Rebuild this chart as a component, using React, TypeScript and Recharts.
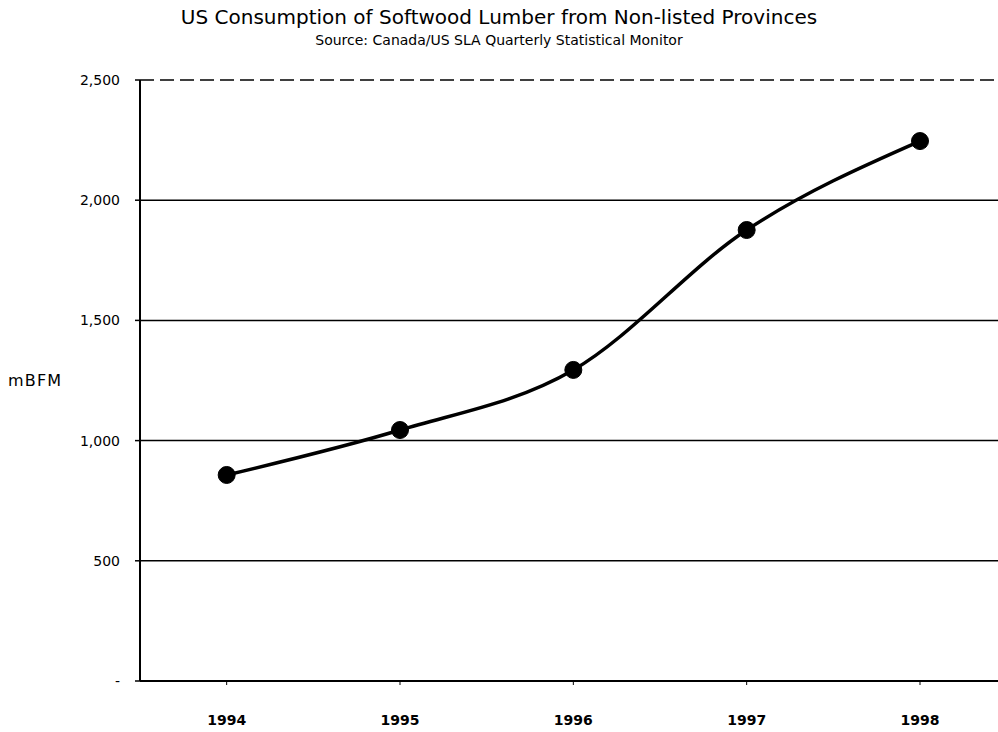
import React from 'react';
import { LineChart, Line, XAxis, YAxis, ReferenceLine } from 'recharts';

const years = [1994, 1995, 1996, 1997, 1998];
const consumption = [857, 1044, 1294, 1876, 2246];
const yTicks = [0, 500, 1000, 1500, 2000, 2500];
const gridValues = [500, 1000, 1500, 2000];

const title = 'US Consumption of Softwood Lumber from Non-listed Provinces';
const subtitle = 'Source: Canada/US SLA Quarterly Statistical Monitor';
const yLabel = 'mBFM';

const data = years.map((y, i) => ({ year: y, value: consumption[i] }));

const fmt = (v: number) => (v === 0 ? '-' : v.toLocaleString('en-US'));

export default function App() {
  return (
    <div style={{ position: 'absolute', left: 0, top: 0, width: 998, height: 732, background: '#fff', fontFamily: 'DejaVu Sans' }}>
      <div style={{ position: 'absolute', left: 0, width: 998, top: 5, textAlign: 'center', fontSize: 20, color: '#000', lineHeight: '24px' }}>{title}</div>
      <div style={{ position: 'absolute', left: 0, width: 998, top: 32, textAlign: 'center', fontSize: 14, color: '#000', lineHeight: '16px' }}>{subtitle}</div>
      <LineChart width={998} height={732} data={data} margin={{ top: 80, right: 0, bottom: 0, left: 0 }}>
        <XAxis
          dataKey="year"
          type="number"
          domain={[1993.5, 1998.45]}
          ticks={years}
          height={51}
          tickSize={4}
          tickMargin={30}
          axisLine={{ stroke: '#000', strokeWidth: 2 }}
          tickLine={{ stroke: '#000' }}
          tick={{ fill: '#000', fontSize: 14, fontWeight: 'bold', fontFamily: 'DejaVu Sans' }}
          allowDataOverflow
        />
        <YAxis
          type="number"
          domain={[0, 2500]}
          ticks={yTicks}
          width={140}
          tickSize={5}
          tickMargin={15}
          tickFormatter={fmt}
          axisLine={{ stroke: '#000', strokeWidth: 2 }}
          tickLine={{ stroke: '#000', strokeWidth: 1.5 }}
          tick={{ fill: '#000', fontSize: 14, fontFamily: 'DejaVu Sans' }}
          label={{ value: yLabel, position: 'insideLeft', offset: 8, style: { fill: '#000', fontSize: 16, letterSpacing: 1.2, fontFamily: 'DejaVu Sans' } }}
        />
        {gridValues.map((v) => (
          <ReferenceLine key={v} y={v} stroke="#000" strokeWidth={1.5} />
        ))}
        <ReferenceLine y={2500} stroke="#000" strokeWidth={1.5} strokeDasharray="14 6" />
        <Line
          type="monotone"
          dataKey="value"
          stroke="#000"
          strokeWidth={3.5}
          dot={{ r: 8.5, fill: '#000', stroke: '#000', strokeWidth: 1 }}
          isAnimationActive={false}
        />
      </LineChart>
    </div>
  );
}
